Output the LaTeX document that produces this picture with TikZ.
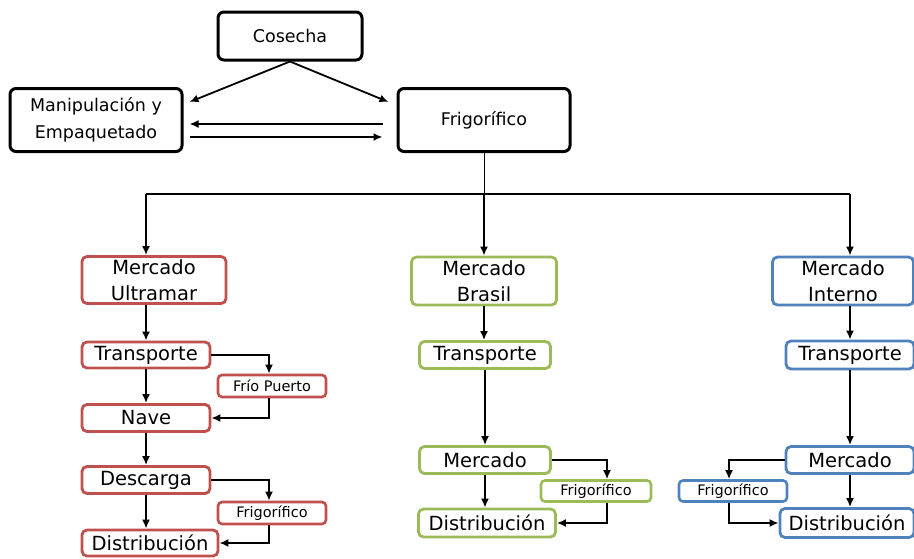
\documentclass[tikz,border=0pt]{standalone}
\usepackage{fontspec}
\setmainfont{DejaVu Sans}
\usetikzlibrary{arrows.meta, positioning, calc}
\definecolor{rojo}{HTML}{C0504D}
\definecolor{verde}{HTML}{9BBB59}
\definecolor{azul}{HTML}{4F81BD}
\tikzset{
  topbox/.style={draw=black,line width=3pt,rounded corners=6pt,inner sep=0pt,align=center,font=\fontsize{17.5}{27}\selectfont},
  colbox/.style={draw=#1,line width=2.8pt,rounded corners=5pt,inner sep=0pt,align=center,font=\fontsize{19.5}{26}\selectfont},
  smallbox/.style={draw=#1,line width=2.6pt,rounded corners=4pt,inner sep=0pt,align=center,font=\fontsize{14.5}{16}\selectfont},
  arr/.style={-{Latex[length=9pt,width=8pt]},line width=1.8pt}
}
\begin{document}
\begin{tikzpicture}[x=1pt,y=-1pt]
        \useasboundingbox (0,0) rectangle (914,558);
        \draw (290,36) node[topbox,minimum width=144,minimum height=48] (cos){Cosecha};
        \draw (96,120) node[topbox,minimum width=172,minimum height=63] (man){Manipulación y\\Empaquetado};
        \draw (484,120) node[topbox,minimum width=172,minimum height=63] (frig){Frigorífico};
        \draw[arr] (cos.south) -- ([shift={(6,-18)}]man.east);
        \draw[arr] (cos.south) -- ([shift={(-8,-18)}]frig.west);
        \draw[arr] ([shift={(-14,4)}]frig.west) -- ([shift={(6,4)}]man.east);
        \draw[arr] ([shift={(6,17)}]man.east) -- ([shift={(-14,17)}]frig.west);
        % Mercado Ultramar
        \draw (154,280) node[colbox=rojo,minimum width=144,minimum height=47] (mu){Mercado\\Ultramar};
        \draw (146,355) node[colbox=rojo,minimum width=128,minimum height=26] (mu_t){Transporte};
        \draw (272,386) node[smallbox=rojo,minimum width=108,minimum height=22] (mu_fp){Frío Puerto};
        \draw (146,418) node[colbox=rojo,minimum width=128,minimum height=27] (mu_n){Nave};
        \draw (146,480) node[colbox=rojo,minimum width=128,minimum height=27] (mu_d){Descarga};
        \draw (272,513) node[smallbox=rojo,minimum width=108,minimum height=22] (mu_f){Frigorífico};
        \draw (150,543) node[colbox=rojo,minimum width=136,minimum height=26] (mu_dist){Distribución};
        % Mercado Brasil
        \draw (484,281) node[colbox=verde,minimum width=145,minimum height=48] (mb){Mercado\\Brasil};
        \draw (485,355) node[colbox=verde,minimum width=131,minimum height=27] (mb_t){Transporte};
        \draw (485,460) node[colbox=verde,minimum width=131,minimum height=27] (mb_m){Mercado};
        \draw (596,491) node[smallbox=verde,minimum width=110,minimum height=21] (mb_f){Frigorífico};
        \draw (487,523) node[colbox=verde,minimum width=137,minimum height=28] (mb_dist){Distribución};
        % Mercado Interno
        \draw (843,281) node[colbox=azul,minimum width=141,minimum height=48] (mi){Mercado\\Interno};
        \draw (850,355) node[colbox=azul,minimum width=128,minimum height=28] (mi_t){Transporte};
        \draw (850,460) node[colbox=azul,minimum width=128,minimum height=27] (mi_m){Mercado};
        \draw (733,491) node[smallbox=azul,minimum width=108,minimum height=21] (mi_f){Frigorífico};
        \draw (847,523) node[colbox=azul,minimum width=134,minimum height=29] (mi_dist){Distribución};
        % reparto
        \coordinate (bus) at (484,194);
        \draw[line width=1pt] (frig.south) -- (bus);
        \draw[line width=2.4pt] (mu_t.north |- bus) -- (mi_t.north |- bus);
        \draw[arr] (bus) -- (mb.north);
        \draw[arr] (mu_t.north |- bus) -- (mu_t.north |- mu.north);
        \draw[arr] (mi_t.north |- bus) -- (mi_t.north |- mi.north);
        % columnas
        \draw[arr] (mu_t.north |- mu.south) -- (mu_t.north);
        \draw[arr] (mu_t.south) -- (mu_n.north);
        \draw[arr] (mu_n.south) -- (mu_d.north);
        \draw[arr] (mu_d.south) -- (mu_d.south |- mu_dist.north);
        \draw[arr] (mu_t.east) -| ([xshift=-3]mu_fp.north);
        \draw[arr] ([xshift=-3]mu_fp.south) |- (mu_n.east);
        \draw[arr] (mu_d.east) -| ([xshift=-3]mu_f.north);
        \draw[arr] ([xshift=-3]mu_f.south) |- (mu_dist.east);
        \draw[arr] (mb.south) -- (mb.south |- mb_t.north);
        \draw[arr] (mb_t.south) -- (mb_m.north);
        \draw[arr] (mb_m.south) -- (mb_m.south |- mb_dist.north);
        \draw[arr] (mb_m.east) -| ([xshift=11]mb_f.north);
        \draw[arr] ([xshift=11]mb_f.south) |- (mb_dist.east);
        \draw[arr] (mi_t.north |- mi.south) -- (mi_t.north);
        \draw[arr] (mi_t.south) -- (mi_m.north);
        \draw[arr] (mi_m.south) -- (mi_m.south |- mi_dist.north);
        \draw[arr] (mi_m.west) -| ([xshift=-4]mi_f.north);
        \draw[arr] ([xshift=-4]mi_f.south) |- (mi_dist.west);
\end{tikzpicture}
\end{document}
